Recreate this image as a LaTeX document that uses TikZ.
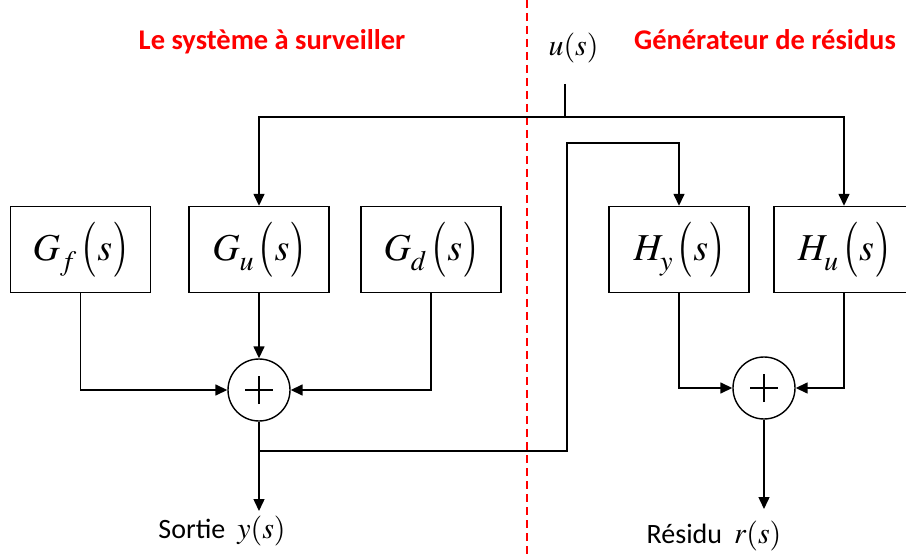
\documentclass[tikz,border=0pt]{standalone}
\usepackage{mathptmx}
\usepackage[no-math]{fontspec}
\newfontfamily\calib{Carlito}
\usetikzlibrary{positioning, arrows.meta}

\newcommand{\bpar}[1]{\raisebox{-2.5pt}{\scalebox{1.1}[1.45]{$#1$}}}
\newcommand{\tfun}[2]{$#1_{\lower4pt\hbox{$\scriptstyle #2$}}\,$\bpar{(}$s$\bpar{)}}

\tikzset{
	block/.style={draw, line width=1.4pt, minimum width=140pt, minimum height=86pt, inner sep=0pt, font=\fontsize{38}{40}\selectfont},
	adder/.style={circle, draw, line width=1.4pt, minimum size=62pt, inner sep=0pt,
		path picture={\draw[line width=1.3pt]
			([xshift=-14pt]path picture bounding box.center) -- ([xshift=14pt]path picture bounding box.center)
			([yshift=-14pt]path picture bounding box.center) -- ([yshift=14pt]path picture bounding box.center);}},
	headline/.style={text=red, font=\calib\bfseries\fontsize{28.5}{30}\selectfont},
	siglabel/.style={anchor=base, font=\fontsize{30}{32}\selectfont},
}

\begin{document}
\begin{tikzpicture}
		[x=1pt, y=-1pt, line width=1.5pt, >={Triangle[length=12pt, width=11pt]}]
		\useasboundingbox (0,0) rectangle (906,556);

		% separation %
		\draw[red, line width=2pt, dash pattern=on 8pt off 5pt] (527,0) -- (527,556);
		\node[headline, anchor=base] (sys) at (272,50) {Le système à surveiller};
		\node[headline, anchor=base] (gen) at (765,50) {Générateur de résidus};

		% nodes %
		\node[block] (gf) at (80.5,249.5) {\tfun{G}{f}};
		\node[block] (gu) at (259,249.5) {\tfun{G}{u}};
		\node[block] (gd) at (431,249.5) {\tfun{G}{d}};
		\node[block] (hy) at (679,249.5) {\tfun{H}{y}};
		\node[block] (hu) at (844,249.5) {\tfun{H}{u}};
		\node[adder] (s1) at (259,390) {};
		\node[adder] (s2) at (764,388) {};

		\node[siglabel] (ulab) at (573.5,56) {$u(s)$};
		\node[siglabel] (ylab) at (222,538) {{\calib\fontsize{28}{30}\selectfont Sortie}\hspace{12pt}$y(s)$};
		\node[siglabel] (rlab) at (714,543) {{\calib\fontsize{28}{30}\selectfont Résidu}\hspace{12pt}$r(s)$};

		\coordinate (uin) at (565,84);
		\coordinate (bus) at (565,117);
		\coordinate (ybr) at (259,451);
		\coordinate (fb) at (567,143);
		\coordinate (yend) at (259,511);
		\coordinate (rend) at (764,509);

		% edges %
		\draw (uin) -- (bus);
		\draw[->] (bus) -| (gu.north);
		\draw[->] (bus) -| (hu.north);
		\draw[->] (gf.south) |- (s1.west);
		\draw[->] (gu.south) -- (s1.north);
		\draw[->] (gd.south) |- (s1.east);
		\draw[->] (s1.south) -- (yend);
		\draw[->] (ybr) -| (fb) -| (hy.north);
		\draw[->] (hy.south) |- (s2.west);
		\draw[->] (hu.south) |- (s2.east);
		\draw[->] (s2.south) -- (rend);
\end{tikzpicture}
\end{document}
